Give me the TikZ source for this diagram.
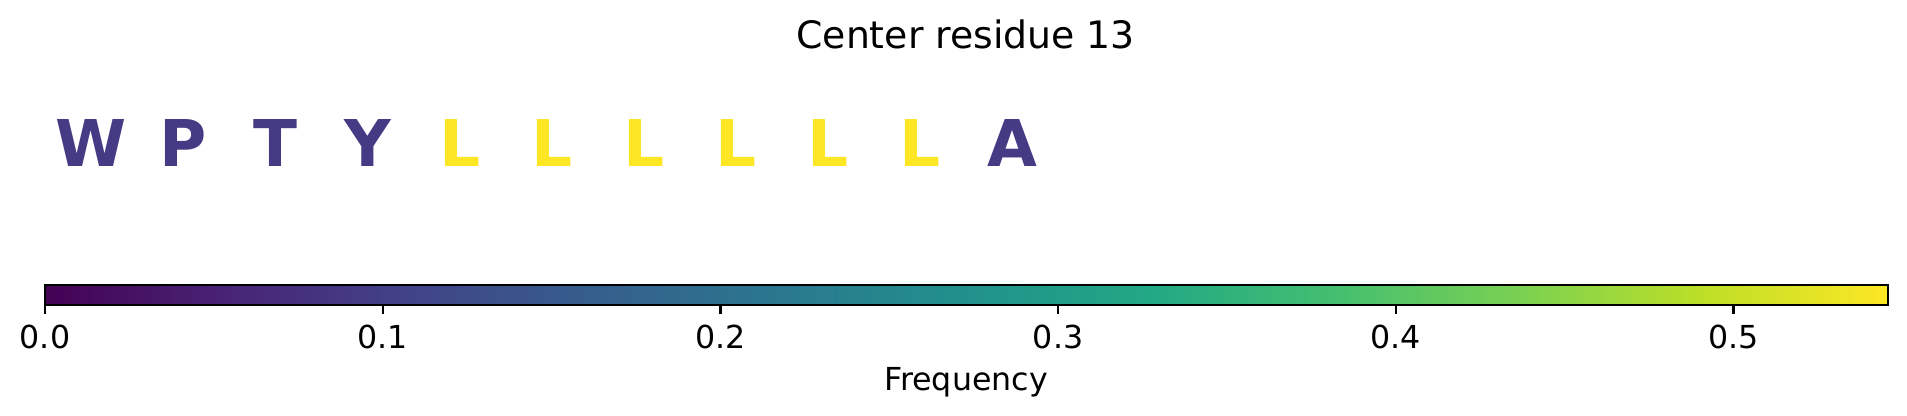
\documentclass[tikz,border=0pt]{standalone}
\usepackage{fontspec}
\setmainfont{DejaVu Sans}
\definecolor{v0}{HTML}{440154}
\definecolor{v1}{HTML}{482475}
\definecolor{v2}{HTML}{414487}
\definecolor{v3}{HTML}{355F8D}
\definecolor{v4}{HTML}{2A788E}
\definecolor{v5}{HTML}{21918C}
\definecolor{v6}{HTML}{22A884}
\definecolor{v7}{HTML}{44BF70}
\definecolor{v8}{HTML}{7AD151}
\definecolor{v9}{HTML}{BDDF26}
\definecolor{v10}{HTML}{FDE725}
\definecolor{lowc}{HTML}{453A84}
\definecolor{highc}{HTML}{FDE725}
\pgfdeclarehorizontalshading{viridis}{100bp}{color(0bp)=(v0); color(25bp)=(v0); color(30bp)=(v1); color(35bp)=(v2); color(40bp)=(v3); color(45bp)=(v4); color(50bp)=(v5); color(55bp)=(v6); color(60bp)=(v7); color(65bp)=(v8); color(70bp)=(v9); color(75bp)=(v10); color(100bp)=(v10)}
\begin{document}
\begin{tikzpicture}[x=0.36pt,y=-0.36pt,
  res/.style={inner sep=0pt,anchor=base,font=\fontsize{23.2}{26}\selectfont\bfseries},
  tick/.style={inner sep=0pt,anchor=base,font=\fontsize{11.4}{13}\selectfont},
  tickmark/.style={line width=0.85pt}]
\useasboundingbox (0,0) rectangle (1907,416);
\node[inner sep=0pt,anchor=base,font=\fontsize{13.6}{16}\selectfont] (title) at (965.7,49) {Center residue 13};
\foreach \l/\c [count=\i from 0] in {W/lowc,P/lowc,T/lowc,Y/lowc,L/highc,L/highc,L/highc,L/highc,L/highc,L/highc,A/lowc}{
  \node[res,text=\c] (r\i) at (91.2+92.1*\i,167) {\l};
}
\shade[shading=viridis] (45,285) rectangle (1887.7,304.7);
\draw[line width=0.85pt] (45,285) rectangle (1887.7,304.7);
\foreach \t [count=\k from 0] in {0.0,0.1,0.2,0.3,0.4,0.5}{
  \coordinate (tk\k) at (45+337.7*\k,304.7);
  \coordinate (te\k) at (45+337.7*\k,314.4);
  \draw[tickmark] (tk\k) -- (te\k);
  \node[tick] (tl\k) at (45+337.7*\k,348.3) {\t};
}
\node[tick] (xlabel) at (966,391) {Frequency};
\end{tikzpicture}
\end{document}
